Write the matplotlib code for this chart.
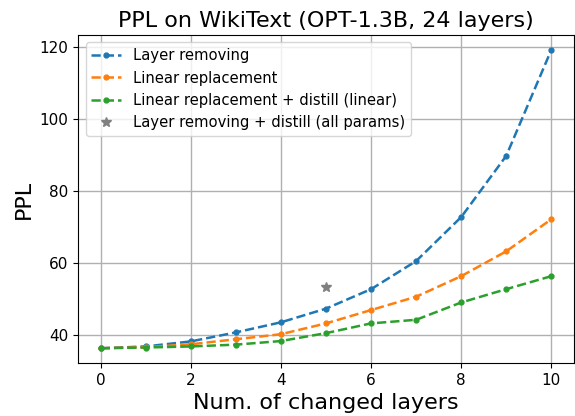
import matplotlib
matplotlib.use("Agg")
import matplotlib.pyplot as plt

layers = list(range(11))
layer_removing = [36.4, 36.9, 38.3, 40.8, 43.6, 47.4, 52.8, 60.6, 72.8, 89.8, 119.2]
linear_replacement = [36.4, 36.7, 37.5, 38.9, 40.3, 43.3, 47.0, 50.7, 56.4, 63.3, 72.2]
linear_distill = [36.4, 36.6, 36.9, 37.4, 38.4, 40.6, 43.3, 44.3, 49.1, 52.8, 56.4]
distill_all_x = [5]
distill_all_y = [53.3]

fig, ax = plt.subplots(figsize=(5.75, 4.16), dpi=100)
ax.plot(layers, layer_removing, "--", marker=".", markersize=7, linewidth=1.8, label="Layer removing")
ax.plot(layers, linear_replacement, "--", marker=".", markersize=7, linewidth=1.8, label="Linear replacement")
ax.plot(layers, linear_distill, "--", marker=".", markersize=7, linewidth=1.8, label="Linear replacement + distill (linear)")
ax.plot(distill_all_x, distill_all_y, "*", color="gray", markersize=7, label="Layer removing + distill (all params)")

ax.set_title("PPL on WikiText (OPT-1.3B, 24 layers)", fontsize=16)
ax.set_xlabel("Num. of changed layers", fontsize=16)
ax.set_ylabel("PPL", fontsize=16)
ax.tick_params(labelsize=11)
ax.grid(True, linewidth=1)
ax.legend(fontsize=10.6, loc="upper left")
fig.subplots_adjust(left=0.136, right=0.998, top=0.916, bottom=0.127)
fig.savefig("out.png")
